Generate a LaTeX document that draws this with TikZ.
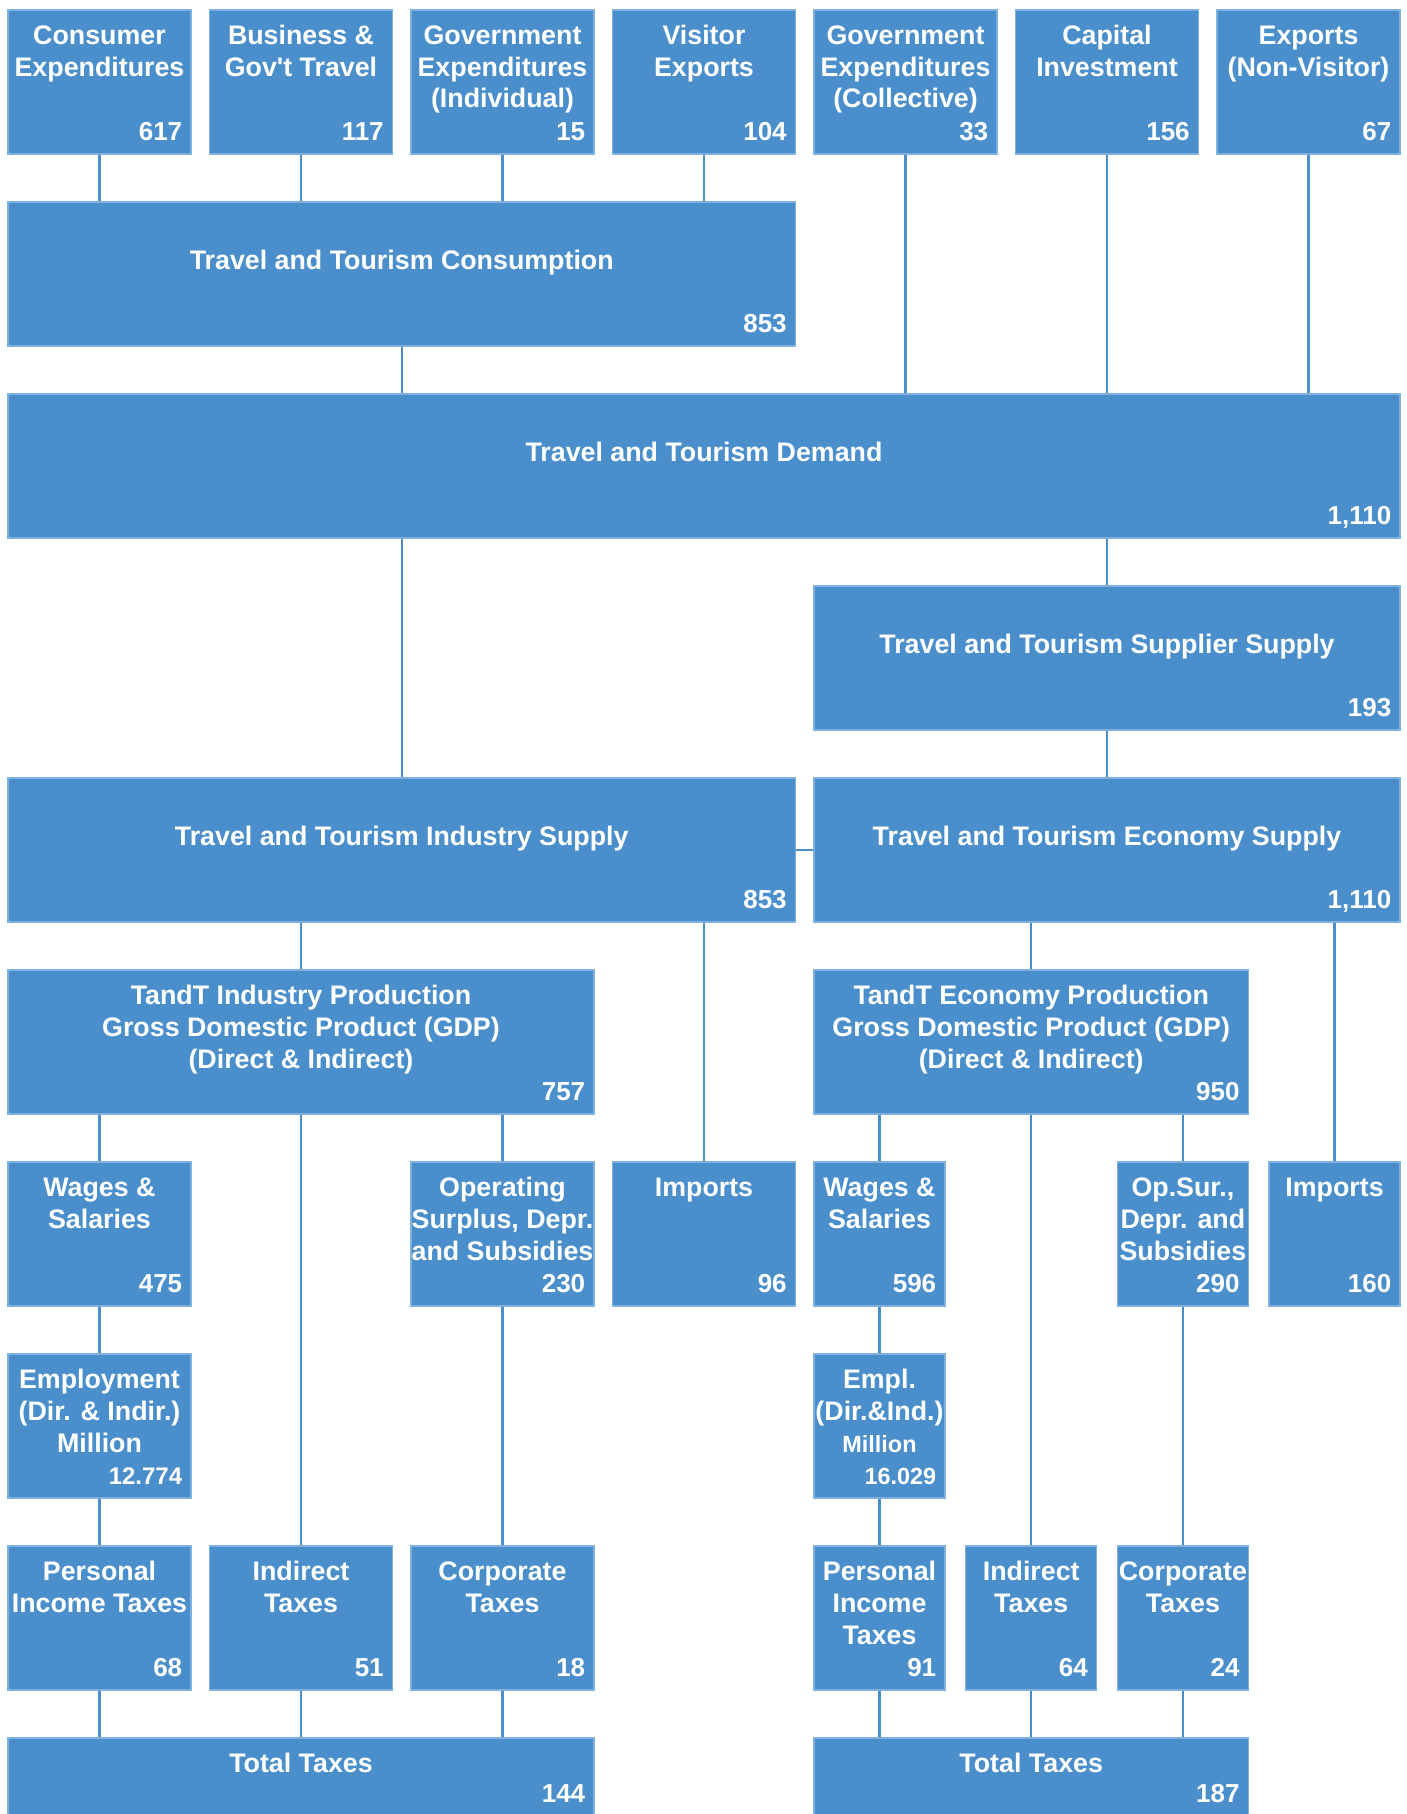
\documentclass[tikz,border=0pt]{standalone}
\usepackage{fontspec}
\setmainfont{Liberation Sans}
\usetikzlibrary{positioning, calc}

\definecolor{boxblue}{HTML}{4A8FCB}
\definecolor{edgeblue}{HTML}{7FB0DE}

\begin{document}
\begin{tikzpicture}[
  x=0.5pt, y=-0.5pt,
  box/.style={rectangle, draw=edgeblue, line width=0.6pt, fill=boxblue, text=white, inner sep=0pt, minimum width=#1, align=center, font=\fontsize{13.4}{16}\selectfont\bfseries, text height=17pt, text depth=55pt},
  box/.default=91.5pt,
  two/.style={text height=33pt, text depth=39pt},
  three/.style={text height=49pt, text depth=23pt},
  wide/.style={text height=33.5pt, text depth=38.5pt},
  total/.style={text depth=22pt},
  val/.style={append after command={node[valtext] at (\tikzlastnode.south east) {#1}}},
  valtext/.style={anchor=base east, xshift=-4.5pt, yshift=7pt, inner sep=0pt, text=white, font=\fontsize{13}{16}\selectfont\bfseries},
  link/.style={draw=boxblue, line width=1.2pt}
]
\useasboundingbox (0,0) rectangle (1407,1814);

% ---------- Spending ----------
\node[box, two, val=617] (ce) at (99.5,82) {Consumer\\Expenditures};
\node[box, two, val=117] (bt) at (301,82) {Business \&\\Gov\textquotesingle t Travel};
\node[box, three, val=15] (gi) at (502.5,82) {Government\\Expenditures\\(Individual)};
\node[box, two, val=104] (ve) at (704,82) {Visitor\\Exports};
\node[box, three, val=33] (gc) at (905.5,82) {Government\\Expenditures\\(Collective)};
\node[box, two, val=156] (ci) at (1107,82) {Capital\\Investment};
\node[box, two, val=67] (ex) at (1308.5,82) {Exports\\(Non-Visitor)};

% ---------- Consumption and demand ----------
\node[box=393.75pt, wide, val=853] (cons) at (401.75,274) {Travel and Tourism Consumption};
\node[box=696pt, wide, val={1,110}] (dem) at (704,466) {Travel and Tourism Demand};
\node[box=293pt, wide, val=193] (ssup) at (1107,658) {Travel and Tourism Supplier Supply};

% ---------- Supply ----------
\node[box=393.75pt, wide, val=853] (isup) at (401.75,850) {Travel and Tourism Industry Supply};
\node[box=293pt, wide, val={1,110}] (esup) at (1107,850) {Travel and Tourism Economy Supply};

% ---------- Production (GDP) ----------
\node[box=293pt, three, val=757] (iprod) at (301,1042) {TandT Industry Production\\Gross Domestic Product (GDP)\\(Direct \& Indirect)};
\node[box=217.2pt, three, val=950] (eprod) at (1031.2,1042) {TandT Economy Production\\Gross Domestic Product (GDP)\\(Direct \& Indirect)};

% ---------- Income and imports ----------
\node[box, two, val=475] (wl) at (99.5,1234) {Wages \&\\Salaries};
\node[box, three, val=230] (osl) at (502.5,1234) {Operating\\Surplus, Depr.\\and Subsidies};
\node[box, val=96] (iml) at (704,1234) {Imports};
\node[box=65.5pt, two, val=596] (wr) at (879.5,1234) {Wages \&\\Salaries};
\node[box=65.5pt, three, val=290] (osr) at (1182.9,1234) {Op.Sur.,\\Depr. and\\Subsidies};
\node[box=65.5pt, val=160] (imr) at (1334.5,1234) {Imports};

% ---------- Employment ----------
\node[box, three, val={\fontsize{12}{14}\selectfont 12.774}] (eml) at (99.5,1426) {Employment\\(Dir. \& Indir.)\\Million};
\node[box=65.5pt, three, val={\fontsize{11.7}{14}\selectfont 16.029}] (emr) at (879.5,1426) {Empl.\\(Dir.\&Ind.)\\{\fontsize{11.7}{14}\selectfont Million}};

% ---------- Taxes ----------
\node[box, two, val=68] (ptl) at (99.5,1618) {Personal\\Income Taxes};
\node[box, two, val=51] (itl) at (301,1618) {Indirect\\Taxes};
\node[box, two, val=18] (ctl) at (502.5,1618) {Corporate\\Taxes};
\node[box=65.5pt, three, val=91] (ptr) at (879.5,1618) {Personal\\Income\\Taxes};
\node[box=65.5pt, two, val=64] (itr) at (1031.2,1618) {Indirect\\Taxes};
\node[box=65.5pt, two, val=24] (ctr) at (1182.9,1618) {Corporate\\Taxes};

\node[box=293pt, total, val=144] (ttl) at (301,1777) {Total Taxes};
\node[box=217.2pt, total, val=187] (ttr) at (1031.2,1777) {Total Taxes};

% ---------- Links ----------
\draw[link] (ce.south) -- (ce.south |- cons.north);
\draw[link] (bt.south) -- (bt.south |- cons.north);
\draw[link] (gi.south) -- (gi.south |- cons.north);
\draw[link] (ve.south) -- (ve.south |- cons.north);
\draw[link] (gc.south) -- (gc.south |- dem.north);
\draw[link] (ci.south) -- (ci.south |- dem.north);
\draw[link] (ex.south) -- (ex.south |- dem.north);
\draw[link] (cons.south) -- (cons.south |- dem.north);
\draw[link] (dem.south -| isup.north) -- (isup.north);
\draw[link] (dem.south -| ssup.north) -- (ssup.north);
\draw[link] (ssup.south) -- (esup.north);
\draw[link] (isup.east) -- (esup.west);
\draw[link] (isup.south -| iprod.north) -- (iprod.north);
\draw[link] (isup.south -| iml.north) -- (iml.north);
\draw[link] (esup.south -| eprod.north) -- (eprod.north);
\draw[link] (esup.south -| imr.north) -- (imr.north);
\draw[link] (iprod.south -| wl.north) -- (wl.north);
\draw[link] (iprod.south -| itl.north) -- (itl.north);
\draw[link] (iprod.south -| osl.north) -- (osl.north);
\draw[link] (eprod.south -| wr.north) -- (wr.north);
\draw[link] (eprod.south -| itr.north) -- (itr.north);
\draw[link] (eprod.south -| osr.north) -- (osr.north);
\draw[link] (wl.south) -- (eml.north);
\draw[link] (eml.south) -- (ptl.north);
\draw[link] (osl.south) -- (ctl.north);
\draw[link] (wr.south) -- (emr.north);
\draw[link] (emr.south) -- (ptr.north);
\draw[link] (osr.south) -- (ctr.north);
\draw[link] (ptl.south) -- (ptl.south |- ttl.north);
\draw[link] (itl.south) -- (itl.south |- ttl.north);
\draw[link] (ctl.south) -- (ctl.south |- ttl.north);
\draw[link] (ptr.south) -- (ptr.south |- ttr.north);
\draw[link] (itr.south) -- (itr.south |- ttr.north);
\draw[link] (ctr.south) -- (ctr.south |- ttr.north);

\end{tikzpicture}
\end{document}
